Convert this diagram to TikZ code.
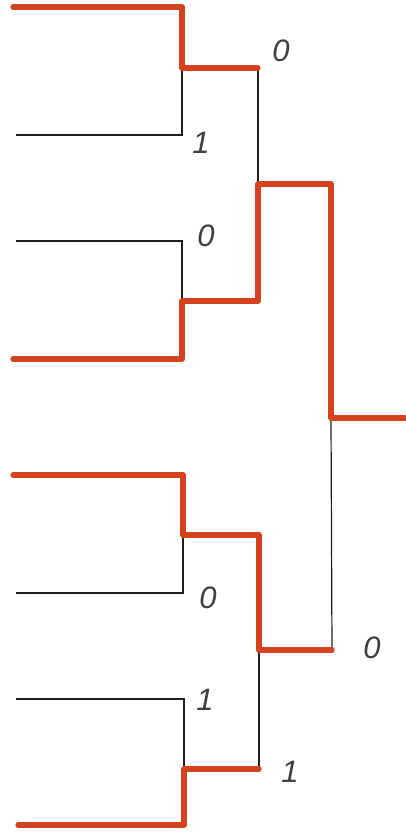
\documentclass[tikz,border=0pt]{standalone}
\usepackage{fontspec}
\setmainfont{Liberation Sans}
\definecolor{winred}{RGB}{214,66,30}
\definecolor{pen}{RGB}{30,30,30}
\tikzset{
  wire/.style={draw=pen, line width=1.2pt},
  win/.style={draw=winred, line width=5.2pt, line join=round, line cap=round},
  bit/.style={font=\fontsize{31}{31}\selectfont\itshape, text=black!75, inner sep=0pt}
}
\begin{document}
\begin{tikzpicture}[x=1pt,y=-1pt]
\useasboundingbox (0,0) rectangle (405,836);
\fill[white] (0,0) rectangle (405,836);
% named coordinates: leaves
\coordinate (L1) at (13,7);   \coordinate (L2) at (16,135);
\coordinate (L3) at (16,241); \coordinate (L4) at (13,359);
\coordinate (L5) at (13,475); \coordinate (L6) at (16,593);
\coordinate (L7) at (16,699); \coordinate (L8) at (18,825);
% first round joins
\coordinate (A1) at (182,68);  \coordinate (A2) at (182,301);
\coordinate (A3) at (183,535); \coordinate (A4) at (184,769);
% second round
\coordinate (B1) at (258,68);  \coordinate (B2) at (258,301);
\coordinate (B3) at (259,535); \coordinate (B4) at (259,769);
\coordinate (C1) at (258,184); \coordinate (C2) at (259,650);
% final
\coordinate (D1) at (331,184); \coordinate (D2) at (332,650);
\coordinate (R) at (331,418);  \coordinate (Out) at (405,418);

% black wires
\draw[wire] (L2) -- (A1 |- L2) -- (A1);
\draw[wire] (L3) -- (A2 |- L3) -- (A2);
\draw[wire] (L6) -- (A3 |- L6) -- (A3);
\draw[wire] (L7) -- (A4 |- L7) -- (A4);
\draw[wire] (B1) -- (C1);
\draw[wire] (C2) -- (B4);
\draw[wire] (R) -- (D2);

% winning paths
\draw[win] (L1) -- (A1 |- L1) -- (A1) -- (B1);
\draw[win] (L4) -- (A2 |- L4) -- (A2) -- (B2) -- (C1) -- (D1) -- (R) -- (Out);
\draw[win] (L5) -- (A3 |- L5) -- (A3) -- (B3) -- (C2) -- (D2);
\draw[win] (L8) -- (A4 |- L8) -- (A4) -- (B4);

% bits
\node[bit] (b1) at (281,51) {0};
\node[bit] (b2) at (201,143) {1};
\node[bit] (b3) at (206,236) {0};
\node[bit] (b4) at (208,598) {0};
\node[bit] (b5) at (372,648) {0};
\node[bit] (b6) at (205,700) {1};
\node[bit] (b7) at (290,772) {1};
\end{tikzpicture}
\end{document}
